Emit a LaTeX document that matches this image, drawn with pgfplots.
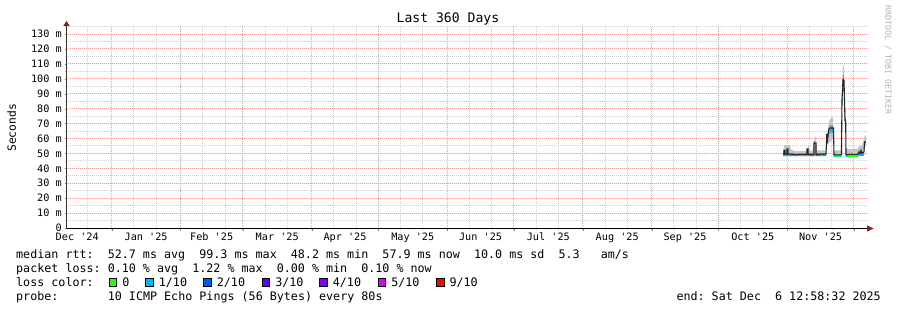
\documentclass[border=0pt]{standalone}
\usepackage{fontspec}
\setmainfont{DejaVu Sans Mono}
\usepackage{pgfplots}
\pgfplotsset{compat=1.18}
\definecolor{mgrid}{HTML}{F09C9C}
\definecolor{sgrid}{HTML}{D0D0D0}
\definecolor{arrowred}{HTML}{8E1C1C}
\definecolor{smoke}{HTML}{C4C4C4}
\definecolor{dsmoke}{HTML}{959595}
\definecolor{wm}{HTML}{B4B4B4}
\definecolor{lossA}{HTML}{26FF00}
\definecolor{lossB}{HTML}{00B8FF}
\definecolor{lossC}{HTML}{0059FF}
\definecolor{lossD}{HTML}{5E00FF}
\definecolor{lossE}{HTML}{7E00FF}
\definecolor{lossF}{HTML}{DD00FF}
\definecolor{lossG}{HTML}{FF0000}
\newcommand{\q}{\textquotesingle}
\newcommand{\lgd}{\fontsize{11.7bp}{14bp}\selectfont}
\tikzset{mg/.style={draw=mgrid, line width=1bp, dash pattern=on 1bp off 1bp, line cap=butt},
         sg/.style={draw=sgrid, line width=1bp, dash pattern=on 1bp off 1bp, line cap=butt}}
\begin{document}
\begin{tikzpicture}[x=1bp,y=1bp]
\useasboundingbox (0,0) rectangle (897,310);
\fill[white] (0,0) rectangle (897,310);
% pixel-aligned dotted grid (behind the data)
\foreach \d in {20,41,51,72,82,100,110,131,141,161,171,192,202,222,232,253,263,284,294,314,324,345,355}{
  \pgfmathsetmacro{\gx}{floor(67+(\d-10.9)*2.222222)+0.5}
  \draw[sg] (\gx,82) -- (\gx,284);}
\foreach \v in {5,15,25,35,45,55,65,75,85,95,105,115,125,135}{
  \pgfmathsetmacro{\gy}{floor(82+\v*1.49225)+0.5}
  \draw[sg] (68,\gy) -- (868,\gy);}
\foreach \d in {31,62,90,121,151,182,212,243,274,304,335,365}{
  \pgfmathsetmacro{\gx}{floor(67+(\d-10.9)*2.222222)+0.5}
  \draw[mg] (\gx,80) -- (\gx,284);}
\foreach \v in {10,20,30,40,50,60,70,80,90,100,110,120,130}{
  \pgfmathsetmacro{\gy}{floor(82+\v*1.49225)+0.5}
  \draw[mg] (68,\gy) -- (868,\gy);}
\begin{axis}[
  at={(67bp,82bp)}, anchor=south west,
  scale only axis, width=800bp, height=202.2bp,
  xmin=10.9, xmax=370.9, ymin=0, ymax=135.5,
  axis line style={draw=none},
  tick pos=left, tick align=outside,
  major tick length=2.5bp, minor tick length=2bp,
  major tick style={black!50}, minor tick style={sgrid},
  xtick={31,62,90,121,151,182,212,243,274,304,335,365},
  xticklabels={},
  minor xtick={20,41,51,72,82,100,110,131,141,161,171,192,202,222,232,253,263,284,294,314,324,345,355},
  ytick={0,10,...,130},
  yticklabels={0,10 m,20 m,30 m,40 m,50 m,60 m,70 m,80 m,90 m,100 m,110 m,120 m,130 m},
  minor ytick={5,15,...,135},
  grid=none,
  extra x ticks={15.5,46.5,76,105.5,136,166.5,197,227.5,258.5,289,319.5,350},
  extra x tick labels={Dec \q24,Jan \q25,Feb \q25,Mar \q25,Apr \q25,May \q25,Jun \q25,Jul \q25,Aug \q25,Sep \q25,Oct \q25,Nov \q25},
  extra x tick style={major tick length=0pt, xticklabel style={yshift=-1.5bp}},
  /pgf/number format/assume math mode=true,
  ticklabel style={font=\fontsize{10.2bp}{12bp}\selectfont, text=black},
  yticklabel style={inner sep=2.5bp},
]
% smoke (range of the 10 pings)
\addplot[fill=smoke, draw=none] coordinates {
(333.2,50)(333.55,55.5)(336.25,55.5)(336.7,52.7)(338.5,51.5)(343.0,51.5)(343.9,52)(344.35,56)(345.25,52)(346.15,51.5)(347.05,55)(347.5,61)(347.95,61)(348.25,52)(352.0,52)(352.45,52)(352.8,60)(353.6,70)(354.25,73)(355.15,74)(355.6,74)(355.8,62)(356.05,52)(359.4,52)(359.65,90)(359.9,103)(360.1,109)(360.55,109)(360.8,80)(361.3,80)(361.45,53)(366.85,53)(367.3,55)(368.65,55)(369.55,60)(370.0,62)(370.45,62)
(370.45,55)(369.8,55)(369.55,48.5)(361.45,48)(361.3,70)(361.0,70)(360.55,90)(360.1,90)(359.65,80)(359.4,48)(356.05,48)(355.8,60)(353.1,56)(352.8,55)(352.45,48)(333.2,48)
} -- cycle;
% darker smoke near the median
\addplot[fill=dsmoke, draw=none] coordinates {
(352.8,56)(353.6,64)(354.25,69)(355.6,69)(355.8,60)
(355.8,64)(353.6,63)(352.8,55)
} -- cycle;
\addplot[fill=dsmoke, draw=none] coordinates {
(359.9,95)(360.1,103)(360.55,103)(360.8,76)
(360.8,72)(360.55,97)(360.1,97)(359.9,90)
} -- cycle;
% median rtt coloured by loss
\addplot[lossB, line width=3bp] coordinates {(333.2,49)(338.5,49)};
\addplot[lossA, line width=3bp] coordinates {(338.5,49)(343.0,49)};
\addplot[lossB, line width=3bp] coordinates {(343.0,49)(347.05,49)};
\addplot[lossB, line width=3bp] coordinates {(347.95,49)(352.45,49)};
\addplot[lossB, line width=3bp] coordinates {(353.8,66)(355.7,66)};
\addplot[lossB, line width=3bp] coordinates {(356.05,48.8)(356.5,48.8)};
\addplot[lossA, line width=3bp] coordinates {(356.5,48.8)(358.75,48.8)};
\addplot[lossB, line width=3bp] coordinates {(358.75,48.8)(359.4,48.8)};
\addplot[lossB, line width=3bp] coordinates {(361.45,48.8)(361.9,48.8)};
\addplot[lossA, line width=3bp] coordinates {(361.9,48.8)(366.85,48.8)};
\addplot[lossB, line width=3bp] coordinates {(366.85,49)(369.55,49)};
\addplot[lossB, line width=3bp] coordinates {(347.1,57)(347.5,57)};
\addplot[lossB, line width=3bp] coordinates {(359.6,86)(359.75,86)};
\addplot[lossB, line width=3bp] coordinates {(360.1,99)(360.4,99)};
\addplot[lossB, line width=3bp] coordinates {(360.9,72)(361.1,72)};
\addplot[lossB, line width=3bp] coordinates {(369.6,57.5)(369.95,57.5)};
% median path
\addplot[black!85, line width=1.1bp] coordinates {
(333.2,49.5)(333.55,49.5)(333.55,52)(334.0,52)(334.0,49.5)(334.9,49.5)(334.9,53)(335.35,53)(335.35,49.5)(336.7,49.5)(338.5,49)(340.75,49.3)(343.0,49.2)(343.9,49.5)(343.9,53)(344.35,53)(344.35,49.5)(346.15,49)(347.05,49)(347.05,57)(347.95,57)(347.95,49)(349.75,49.5)(352.0,49.5)(352.45,49.5)(352.8,63)(353.1,59)(353.6,65)(353.8,66.5)(354.25,67)(355.15,67)(355.6,67)(355.8,67)(356.05,49)(357.85,49)(359.4,49)(359.65,86)(360.1,99.3)(360.55,99)(361.0,72)(361.3,72)(361.45,49)(363.25,49.5)(365.5,49.3)(366.85,49.5)(367.3,51)(367.75,50)(368.2,52)(368.65,50)(369.1,50.5)(369.55,51)(369.8,57.5)(370.45,57.9)
};
\end{axis}
% axes with arrow heads
\draw[black, line width=1bp] (66,81.5) -- (869,81.5);
\fill[arrowred] (867,78.3) -- (873.5,81.5) -- (867,84.7) -- cycle;
\draw[black!80, line width=1bp] (66.5,81) -- (66.5,286);
\fill[arrowred] (63.3,284) -- (66.5,289) -- (69.7,284) -- cycle;
% title, unit label, watermark
\node[font=\fontsize{13.1bp}{15bp}\selectfont, inner sep=0] at (447.9,290.5) {Last 360 Days};
\node[font=\fontsize{11.3bp}{13bp}\selectfont, rotate=90, inner sep=0] at (11.7,182.2) {Seconds};
\node[font=\fontsize{8.3bp}{10bp}\selectfont, rotate=-90, text=wm, inner sep=0] at (888,250) {RRDTOOL / TOBI OETIKER};
% legend
\node[anchor=base west, inner sep=0, font=\lgd] at (16,51.7) {median~rtt:~~52.7~ms~avg~~99.3~ms~max~~48.2~ms~min~~57.9~ms~now~~10.0~ms~sd~~5.3~~~am/s};
\node[anchor=base west, inner sep=0, font=\lgd] at (16,37.7) {packet~loss:~0.10~\%~avg~~1.22~\%~max~~0.00~\%~min~~0.10~\%~now};
\node[anchor=base west, inner sep=0, font=\lgd] at (16,23.7) {loss~color:};
\foreach \bx/\col/\lab in {108.7/lossA/0,145.3/lossB/1\slash 10,203.3/lossC/2\slash 10,261.7/lossD/3\slash 10,319.3/lossE/4\slash 10,377.7/lossF/5\slash 10,436/lossG/9\slash 10}{
  \filldraw[fill=\col, draw=black, line width=0.9bp] (\bx+0.5,23.5) rectangle (\bx+8,31.5);
  \node[anchor=base west, inner sep=0, font=\lgd] at (\bx+13.4,23.7) {\lab};
}
\node[anchor=base west, inner sep=0, font=\lgd] at (16,9.7) {probe:};
\node[anchor=base west, inner sep=0, font=\lgd] at (107.65,9.7) {10~ICMP~Echo~Pings~(56~Bytes)~every~80s};
\node[anchor=base east, inner sep=0, font=\lgd] at (881,9.7) {end:~Sat~Dec~~6~12:58:32~2025};
\end{tikzpicture}
\end{document}
